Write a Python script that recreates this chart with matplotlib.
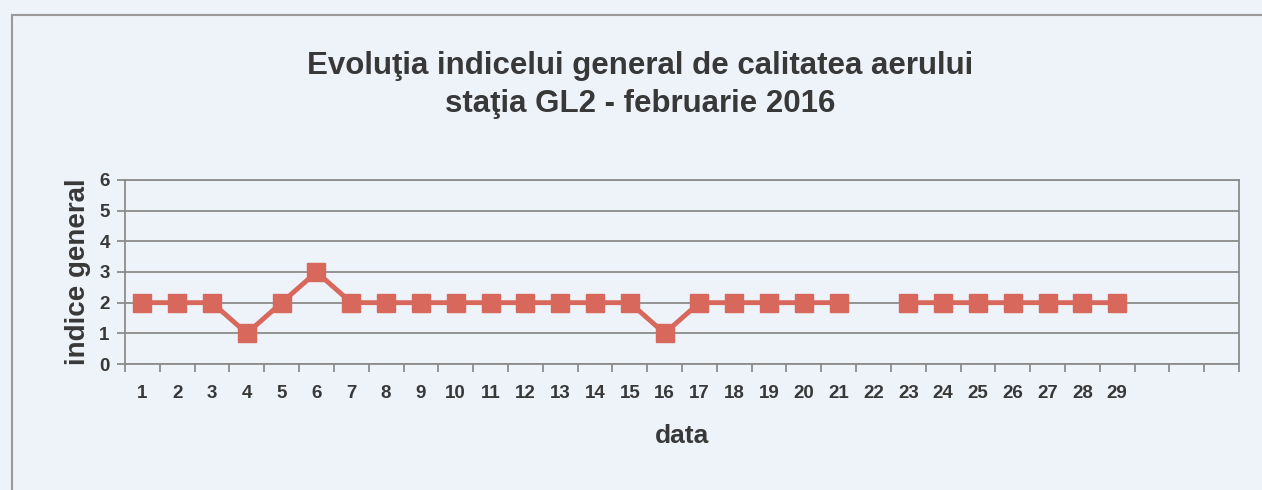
import numpy as np
import matplotlib
matplotlib.use("Agg")
import matplotlib.pyplot as plt
from matplotlib.lines import Line2D

# ---- data ----
days = [str(d) for d in range(1, 30)]
values = [2, 2, 2, 1, 2, 3, 2, 2, 2, 2, 2, 2, 2, 2, 2, 1, 2, 2, 2, 2, 2,
          np.nan, 2, 2, 2, 2, 2, 2, 2]
n_slots = 32  # category axis has 3 empty slots after day 29
y_ticks = [0, 1, 2, 3, 4, 5, 6]
title1 = "Evoluţia indicelui general de calitatea aerului"
title2 = "staţia GL2 - februarie 2016"
xlabel = "data"
ylabel = "indice general"

bg = "#eef2f9"
txt = "#383838"
grid_c = "#8c8c8c"
line_c = "#d8675c"

plt.rcParams['font.family'] = ['Liberation Sans', 'DejaVu Sans']
plt.rcParams['font.weight'] = 'bold'

fig = plt.figure(figsize=(12.62, 4.90), dpi=100, facecolor=bg)
ax = fig.add_axes([125/1262, 1-364/490, (1239-125)/1262, (364-180)/490])
ax.set_facecolor(bg)

x = np.arange(1, len(days) + 1)
ax.plot(x, values, color=line_c, lw=3.5, marker='s', ms=13.5,
        markerfacecolor=line_c, markeredgecolor=line_c, zorder=3)

ax.set_xlim(0.5, n_slots + 0.5)
ax.set_ylim(0, 6)
ax.set_yticks(y_ticks)
ax.set_yticklabels([str(v) for v in y_ticks], fontsize=13.5, fontweight='bold', color=txt)
ax.yaxis.grid(True, color=grid_c, lw=1.3)
ax.set_axisbelow(True)

ax.set_xticks(x)
ax.set_xticklabels(days, fontsize=13.5, fontweight='bold', color=txt)
ax.set_xticks(np.arange(0.5, n_slots + 1, 1), minor=True)
ax.tick_params(axis='x', which='major', length=0, pad=15)
ax.tick_params(axis='x', which='minor', length=6, width=1.3, color=grid_c)
ax.tick_params(axis='y', which='major', length=6, width=1.3, color=grid_c, pad=5)

for s in ax.spines.values():
    s.set_color(grid_c)
    s.set_linewidth(1.3)

ax.set_xlabel(xlabel, fontsize=19, fontweight='bold', color=txt, labelpad=16)
ax.set_ylabel(ylabel, fontsize=20, fontweight='bold', color=txt, labelpad=6)

fig.text(640/1262, 1-66/490, title1, ha='center', va='center',
         fontsize=22.5, fontweight='bold', color=txt)
fig.text(640/1262, 1-104/490, title2, ha='center', va='center',
         fontsize=22.5, fontweight='bold', color=txt)

# chart area border (extends beyond the visible region on right/bottom)
fig.add_artist(Line2D([12/1262, 12/1262], [0, 1-15/490], transform=fig.transFigure,
                      color="#9a9a9a", lw=1.5))
fig.add_artist(Line2D([12/1262, 1], [1-15/490, 1-15/490], transform=fig.transFigure,
                      color="#9a9a9a", lw=1.5))

fig.savefig("out.png", dpi=100, facecolor=bg)
